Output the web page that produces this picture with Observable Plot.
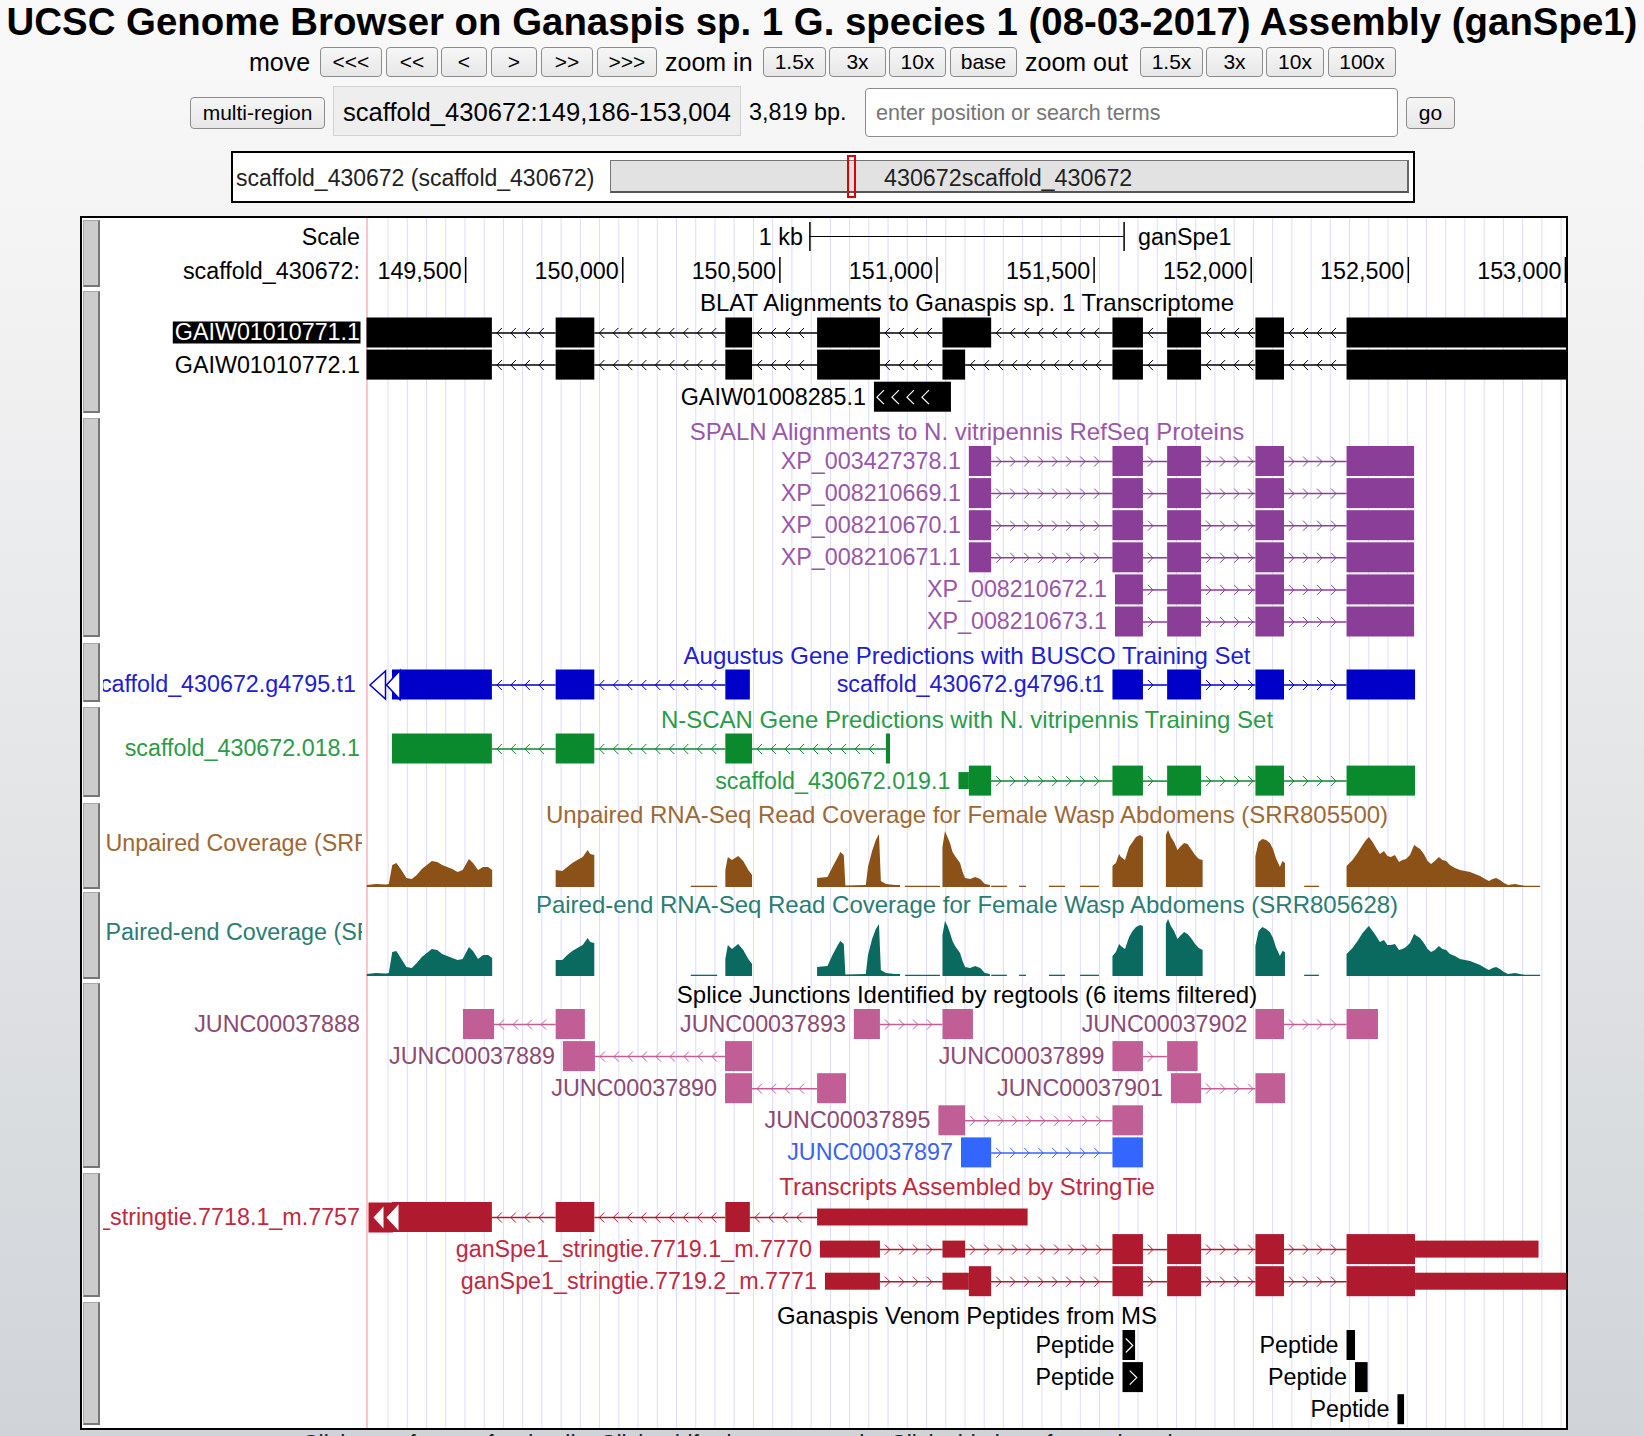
<!DOCTYPE html>
<html>
<head>
<meta charset="utf-8">
<script src="https://cdn.jsdelivr.net/npm/d3@7"></script>
<script src="https://cdn.jsdelivr.net/npm/@observablehq/plot@0.6"></script>
<style>
  html, body { margin: 0; padding: 0; }
  body { width: 1644px; height: 1436px; overflow: hidden; position: relative;
         font-family: "Liberation Sans", Arial, Helvetica, sans-serif; color: #000;
         background: linear-gradient(to bottom, #f9f9f9 0px, #f3f3f3 260px, #d0d4d8 1436px); }
  .t { position: absolute; white-space: nowrap; }
  .btn { position: absolute; box-sizing: border-box; border: 1px solid #8c8c8c; border-radius: 4px;
         background: linear-gradient(#f6f6f6, #e7e7e7); font-size: 21px; display: flex;
         align-items: center; justify-content: center; color: #000; }
  #frame { position: absolute; left: 80px; top: 216px; width: 1484px; height: 1210px;
           border: 2px solid #000; background: #fff; }
  #frame svg { position: absolute; left: 0; top: 0; }
  .side { position: absolute; left: 1px; width: 17px; box-sizing: border-box; background: #cccccc;
          border: 1px solid #a8a8a8; border-right: 2px solid #777; border-bottom: 2px solid #777; }
</style>
</head>
<body>
<div id="header"></div>
<div id="frame"></div>
<script>
// ---------------- DATA ----------------
const START = 149186, END = 153005;            // scaffold_430672:149,186-153,004
const rulerTicks = [149500, 150000, 150500, 151000, 151500, 152000, 152500, 153000];
const scaleBarBp = 1000, scaleBarLabel = "1 kb", assemblyName = "ganSpe1", chromLabel = "scaffold_430672:";

const blatFeatures = [
  {name: "GAIW01010771.1", row: 0, strand: "-", blocks: [[149186,149585],[149788,149911],[150328,150413],[150620,150820],[151019,151174],[151560,151657],[151734,151842],[152015,152106],[152305,153005]]},
  {name: "GAIW01010772.1", row: 1, strand: "-", blocks: [[149186,149585],[149788,149911],[150328,150413],[150620,150820],[151019,151091],[151560,151657],[151734,151842],[152015,152106],[152305,153005]]},
  {name: "GAIW01008285.1", row: 2, strand: "-", blocks: [[150801,151046]]}
];
const spalnFeatures = [
  {name: "XP_003427378.1", row: 0, strand: "+", blocks: [[151103,151174],[151560,151657],[151734,151842],[152015,152106],[152305,152520]]},
  {name: "XP_008210669.1", row: 1, strand: "+", blocks: [[151103,151174],[151560,151657],[151734,151842],[152015,152106],[152305,152520]]},
  {name: "XP_008210670.1", row: 2, strand: "+", blocks: [[151103,151174],[151560,151657],[151734,151842],[152015,152106],[152305,152520]]},
  {name: "XP_008210671.1", row: 3, strand: "+", blocks: [[151103,151174],[151560,151657],[151734,151842],[152015,152106],[152305,152520]]},
  {name: "XP_008210672.1", row: 4, strand: "+", blocks: [[151568,151657],[151734,151842],[152015,152106],[152305,152520]]},
  {name: "XP_008210673.1", row: 5, strand: "+", blocks: [[151568,151657],[151734,151842],[152015,152106],[152305,152520]]}
];
const augustusFeatures = [
  {name: "scaffold_430672.g4795.t1", row: 0, strand: "-", continuesLeft: true, blocks: [[149267,149585],[149788,149911],[150328,150406]]},
  {name: "scaffold_430672.g4796.t1", row: 0, strand: "+", blocks: [[151560,151657],[151734,151842],[152015,152106],[152305,152523]]}
];
const nscanFeatures = [
  {name: "scaffold_430672.018.1", row: 0, strand: "-", blocks: [[149267,149585],[149788,149911],[150328,150413],[150839,150852]]},
  {name: "scaffold_430672.019.1", row: 1, strand: "+", blocks: [[151070,151103,1],[151103,151174],[151560,151657],[151734,151842],[152015,152106],[152305,152523]]}
];
// coverage segments: [position, depth]
const unpairedCoverage = [
  [[149187,2],[149216,3],[149248,2.5],[149257,3],[149268,22],[149281,24],[149297,17],[149313,9],[149330,8],[149346,12],[149362,18],[149378,22],[149394,26],[149411,25],[149427,22],[149443,20],[149459,18],[149476,15],[149492,17],[149512,28],[149525,24],[149541,17],[149557,20],[149573,20],[149586,17]],
  [[149788,17],[149809,16],[149825,20],[149841,24],[149857,27],[149874,30],[149890,37],[149898,33],[149911,32]],
  [[150218,1.3],[150302,1.3]],
  [[150328,17],[150336,30],[150349,27],[150369,31],[150385,26],[150401,17],[150413,12]],
  [[150620,9],[150653,10],[150669,20],[150686,30],[150694,35],[150705,32],[150710,1.5],[150775,2],[150782,20],[150795,36],[150807,47],[150817,53],[150823,6],[150839,3],[150868,2],[150884,2]],
  [[150900,1.3],[151011,1.3]],
  [[151019,40],[151027,56],[151035,50],[151043,44],[151051,35],[151059,31],[151075,24],[151083,15],[151091,9],[151107,8],[151123,10],[151139,8],[151154,3],[151170,2]],
  [[151174,1.3],[151224,1.3]],
  [[151263,1.3],[151285,1.3]],
  [[151358,1.3],[151409,1.3]],
  [[151457,1.3],[151517,1.3]],
  [[151560,21],[151571,24],[151581,33],[151587,30],[151600,27],[151613,40],[151624,45],[151635,50],[151648,52],[151657,50]],
  [[151730,52],[151737,57],[151746,50],[151756,45],[151767,37],[151775,40],[151788,44],[151799,43],[151810,38],[151823,32],[151835,28],[151847,27]],
  [[152015,31],[152025,45],[152037,48],[152049,47],[152061,44],[152071,38],[152080,29],[152093,20],[152101,26],[152109,24]],
  [[152170,1.3],[152217,1.3]],
  [[152305,21],[152324,27],[152340,34],[152356,42],[152367,47],[152376,50],[152388,45],[152399,39],[152411,33],[152424,36],[152435,31],[152446,30],[152459,32],[152472,25],[152483,27],[152494,28],[152507,32],[152520,42],[152529,40],[152539,38],[152551,33],[152563,26],[152574,23],[152586,26],[152599,30],[152610,27],[152622,26],[152634,22],[152650,19],[152666,17],[152682,16],[152698,15],[152714,13],[152730,11],[152746,8],[152758,6],[152770,8],[152781,9],[152793,7],[152806,4],[152819,2],[152841,3],[152857,2],[152873,1.3],[152921,1.3]]
];
const pairedCoverage = [
  [[149187,2],[149216,3],[149248,2.5],[149257,3],[149268,24],[149281,25],[149297,17],[149313,9],[149330,8],[149346,13],[149362,19],[149378,23],[149394,27],[149411,26],[149427,22],[149443,20],[149459,18],[149476,16],[149492,17],[149512,29],[149525,25],[149541,17],[149557,21],[149573,21],[149586,18]],
  [[149788,16],[149809,16],[149825,21],[149841,25],[149857,28],[149874,31],[149890,38],[149898,34],[149911,33]],
  [[150218,1.3],[150302,1.3]],
  [[150328,17],[150336,31],[150349,27],[150369,32],[150385,26],[150401,17],[150413,12]],
  [[150620,9],[150653,10],[150669,21],[150686,31],[150694,35],[150705,32],[150710,1.5],[150775,2],[150782,21],[150795,37],[150807,47],[150817,52],[150823,6],[150839,3],[150868,2],[150884,2]],
  [[150900,1.3],[151011,1.3]],
  [[151019,41],[151027,55],[151035,50],[151043,43],[151051,35],[151059,30],[151075,23],[151083,15],[151091,9],[151107,8],[151123,10],[151139,8],[151154,3],[151170,2]],
  [[151174,1.3],[151224,1.3]],
  [[151263,1.3],[151285,1.3]],
  [[151358,1.3],[151409,1.3]],
  [[151457,1.3],[151517,1.3]],
  [[151560,20],[151571,24],[151581,32],[151587,30],[151600,27],[151613,39],[151624,45],[151635,49],[151648,51],[151657,50]],
  [[151730,52],[151737,57],[151746,50],[151756,45],[151767,37],[151775,40],[151788,44],[151799,42],[151810,38],[151823,32],[151835,28],[151847,26]],
  [[152015,30],[152025,45],[152037,49],[152049,47],[152061,44],[152071,38],[152080,29],[152093,20],[152101,25],[152109,24]],
  [[152170,1.3],[152217,1.3]],
  [[152305,22],[152324,28],[152340,35],[152356,43],[152367,47],[152376,50],[152388,45],[152399,40],[152411,34],[152424,36],[152435,31],[152446,31],[152459,32],[152472,26],[152483,27],[152494,29],[152507,33],[152520,42],[152529,40],[152539,38],[152551,33],[152563,27],[152574,24],[152586,26],[152599,30],[152610,27],[152622,26],[152634,22],[152650,20],[152666,17],[152682,16],[152698,15],[152714,13],[152730,11],[152746,8],[152758,6],[152770,8],[152781,9],[152793,7],[152806,4],[152819,2],[152841,3],[152857,2],[152873,1.3],[152921,1.3]]
];
const spliceJunctions = [
  {name: "JUNC00037888", row: 0, strand: "-", blocks: [[149493,149592],[149788,149881]]},
  {name: "JUNC00037893", row: 0, strand: "+", blocks: [[150737,150820],[151019,151116]]},
  {name: "JUNC00037902", row: 0, strand: "+", blocks: [[152015,152106],[152305,152405]]},
  {name: "JUNC00037889", row: 1, strand: "-", blocks: [[149811,149913],[150327,150413]]},
  {name: "JUNC00037899", row: 1, strand: "+", blocks: [[151560,151657],[151734,151831]]},
  {name: "JUNC00037890", row: 2, strand: "-", blocks: [[150327,150413],[150620,150712]]},
  {name: "JUNC00037901", row: 2, strand: "+", blocks: [[151746,151842],[152015,152109]]},
  {name: "JUNC00037895", row: 3, strand: "+", blocks: [[151006,151091],[151560,151657]]},
  {name: "JUNC00037897", row: 4, strand: "+", blocks: [[151078,151174],[151560,151657]]}
];
const stringtieFeatures = [
  {name: "ganSpe1_stringtie.7718.1_m.7757", row: 0, strand: "-", continuesLeft: true, blocks: [[149267,149585],[149788,149911],[150328,150406],[150620,151290,1]]},
  {name: "ganSpe1_stringtie.7719.1_m.7770", row: 1, strand: "+", blocks: [[150629,150820,1],[151019,151091,1],[151560,151657],[151734,151842],[152015,152106],[152305,152523],[152523,152916,1]]},
  {name: "ganSpe1_stringtie.7719.2_m.7771", row: 2, strand: "+", blocks: [[150645,150820,1],[151019,151103,1],[151103,151174],[151560,151657],[151734,151842],[152015,152106],[152305,152523],[152523,153005,1]]}
];
const venomPeptides = [
  {name: "Peptide", row: 0, strand: "+", blocks: [[151592,151632]]},
  {name: "Peptide", row: 0, strand: ".", blocks: [[152305,152332]]},
  {name: "Peptide", row: 1, strand: "+", blocks: [[151592,151657]]},
  {name: "Peptide", row: 1, strand: ".", blocks: [[152332,152372]]},
  {name: "Peptide", row: 2, strand: ".", blocks: [[152467,152488]]}
];
const tracks = [
  {key: "blat", title: "BLAT Alignments to Ganaspis sp. 1 Transcriptome", features: blatFeatures},
  {key: "spaln", title: "SPALN Alignments to N. vitripennis RefSeq Proteins", features: spalnFeatures},
  {key: "augustus", title: "Augustus Gene Predictions with BUSCO Training Set", features: augustusFeatures},
  {key: "nscan", title: "N-SCAN Gene Predictions with N. vitripennis Training Set", features: nscanFeatures},
  {key: "unpaired", title: "Unpaired RNA-Seq Read Coverage for Female Wasp Abdomens (SRR805500)", shortLabel: "Unpaired Coverage (SRR805500)", coverage: unpairedCoverage},
  {key: "paired", title: "Paired-end RNA-Seq Read Coverage for Female Wasp Abdomens (SRR805628)", shortLabel: "Paired-end Coverage (SRR805628)", coverage: pairedCoverage},
  {key: "splice", title: "Splice Junctions Identified by regtools (6 items filtered)", features: spliceJunctions},
  {key: "stringtie", title: "Transcripts Assembled by StringTie", features: stringtieFeatures},
  {key: "venom", title: "Ganaspis Venom Peptides from MS", features: venomPeptides}
];
const highlightedItem = "GAIW01010771.1";

// ---------------- STYLE / LAYOUT ----------------
const FONT = '"Liberation Sans", Arial, Helvetica, sans-serif';
const FRAME_X = 82, FRAME_Y = 218, W = 1484, H = 1210;
const DATA_L = 366.5, DATA_R = 1566.5;
const PITCH = 32.1, BOX = 30, THIN = 17, FS = 23.3, FS_TITLE = 24;
const layout = {
  blat: {title: 303, row0: 332.5}, spaln: {title: 432, row0: 461}, augustus: {title: 656, row0: 684.5},
  nscan: {title: 720, row0: 748.5}, unpaired: {title: 815, base: 887, label: 843},
  paired: {title: 905, base: 976, label: 932}, splice: {title: 995, row0: 1024},
  stringtie: {title: 1187, row0: 1217}, venom: {title: 1316, row0: 1345}
};
const style = {
  blat: {box: "#000000", text: "#000000", title: "#000000"},
  spaln: {box: "#8a3e98", text: "#9957a8", title: "#9957a8"},
  augustus: {box: "#0000c8", text: "#2020d2", title: "#2020d2", leftLabelGap: 11},
  nscan: {box: "#0a8a2c", text: "#2b9b47", title: "#2b9b47"},
  unpaired: {box: "#8b5117", text: "#9c6935", title: "#9c6935"},
  paired: {box: "#0b6a5f", text: "#2b7c72", title: "#2b7c72"},
  splice: {box: "#c25e96", text: "#8c4a72", title: "#000000"},
  stringtie: {box: "#b01a2e", text: "#c02a3e", title: "#c02a3e"},
  venom: {box: "#000000", text: "#000000", title: "#000000"}
};
const colorOverride = {"JUNC00037897": "#3366ff"};
const textOverride = {"JUNC00037897": "#3a64ee"};
const guideColor = "#dcdcff";

// ---------------- HEADER (page UI) ----------------
const header = document.getElementById("header");
function addDiv(cls, css, text) { const d = document.createElement("div"); d.className = cls; d.style.cssText = css; if (text != null) d.textContent = text; header.appendChild(d); return d; }
addDiv("t", "left:0;top:0;width:1644px;text-align:center;font-weight:bold;font-size:38.4px;line-height:44px;", "UCSC Genome Browser on Ganaspis sp. 1 G. species 1 (08-03-2017) Assembly (ganSpe1)");
const navText = [["move", 249], ["zoom in", 665], ["zoom out", 1025]];
const navButtons = [["<<<",320,382],["<<",386,438],["<",441,487],[">",491,537],[">>",541,593],[">>>",597,657],["1.5x",763,826],["3x",829,886],["10x",889,946],["base",950,1017],["1.5x",1140,1203],["3x",1206,1263],["10x",1266,1324],["100x",1328,1396]];
navText.forEach(([t, x]) => addDiv("t", `left:${x}px;top:47px;font-size:25px;line-height:30px;`, t));
navButtons.forEach(([t, a, b]) => addDiv("btn", `left:${a}px;top:47px;width:${b - a}px;height:30px;`, t));
addDiv("btn", "left:190px;top:97px;width:135px;height:32px;", "multi-region");
addDiv("t", "left:333px;top:86px;width:408px;height:50px;box-sizing:border-box;background:#eeeeee;border:1px solid #d2d2d2;", "");
addDiv("t", "left:343px;top:97px;font-size:25.6px;line-height:30px;", "scaffold_430672:149,186-153,004");
addDiv("t", "left:749px;top:97px;font-size:23.4px;line-height:30px;", "3,819 bp.");
addDiv("t", "left:865px;top:88px;width:533px;height:49px;box-sizing:border-box;background:#fff;border:1px solid #8c8c8c;border-radius:4px;", "");
addDiv("t", "left:876px;top:98px;font-size:21.5px;line-height:30px;color:#767676;", "enter position or search terms");
addDiv("btn", "left:1406px;top:97px;width:49px;height:32px;", "go");
addDiv("t", "left:231px;top:151px;width:1184px;height:52px;box-sizing:border-box;background:#fff;border:2px solid #000;", "");
addDiv("t", "left:236px;top:163px;font-size:23px;line-height:30px;color:#222;", "scaffold_430672 (scaffold_430672)");
addDiv("t", "left:610px;top:160px;width:799px;height:33px;box-sizing:border-box;background:#e2e2e2;border:1px solid #777;border-bottom:2px solid #555;border-right:2px solid #666;", "");
addDiv("t", "left:884px;top:163px;font-size:23.3px;line-height:30px;color:#222;", "430672scaffold_430672");
addDiv("t", "left:847px;top:155px;width:9px;height:43px;box-sizing:border-box;border:2px solid #e00000;", "");
addDiv("t", "left:302px;top:1431px;font-size:23px;line-height:26px;color:#222;", "Click on a feature for details. Click+shift+drag to zoom in. Click side bars for track options.");

// ---------------- CHART ----------------
const xs = d3.scaleLinear().domain([START, END]).range([DATA_L, DATA_R]); // page-pixel helper for spacing decorations
const ctx2d = document.createElement("canvas").getContext("2d");
const textWidth = (s, size) => { ctx2d.font = `${size}px ${FONT}`; return ctx2d.measureText(s).width; };
function chevronsBetween(a, b, step, padStart, padEnd) {
  const out = [], p0 = xs(a), p1 = xs(b);
  for (let p = p0 + padStart; p < p1 - padEnd; p += step) out.push(xs.invert(p));
  return out;
}

const featRows = [];
tracks.forEach(t => (t.features || []).forEach(f => featRows.push({...f, track: t.key})));
const yOf = f => layout[f.track].row0 + f.row * PITCH;
const colorOf = f => colorOverride[f.name] || style[f.track].box;
const textColorOf = f => textOverride[f.name] || style[f.track].text;

const blocks = featRows.flatMap(f => f.blocks.map(b => ({x1: b[0], x2: b[1], y: yOf(f), h: b[2] ? THIN : BOX, fill: colorOf(f)})));
const introns = featRows.flatMap(f => f.blocks.slice(1).map((b, i) => ({x1: f.blocks[i][1], x2: b[0], y: yOf(f), stroke: colorOf(f), strand: f.strand}))).filter(d => d.x2 > d.x1);
const intronChev = introns.flatMap(d => chevronsBetween(d.x1, d.x2, 14, 7, 5).map(x => ({x, y: d.y, stroke: d.stroke, strand: d.strand})));
const innerChev = featRows.filter(f => f.blocks.length === 1 && f.strand !== ".").flatMap(f => {
  const [a, b] = f.blocks[0]; const w = xs(b) - xs(a);
  const pts = w < 22 ? [xs.invert((xs(a) + xs(b)) / 2)] : chevronsBetween(a, b, 15, 6, 12);
  return pts.map(x => ({x, y: yOf(f), strand: f.strand}));
});

const labels = featRows.map(f => {
  const w = textWidth(f.name, FS), sx = xs(f.blocks[0][0]);
  const left = f.blocks[0][0] <= START || (sx - 8.5 - w) < DATA_L + 2;
  return {x: left ? START : f.blocks[0][0], y: yOf(f), text: f.name, left, w, gap: style[f.track].leftLabelGap || 7,
          fill: f.name === highlightedItem ? "#ffffff" : textColorOf(f)};
});
const leftLabels = labels.filter(d => d.left), featLabels = labels.filter(d => !d.left);
const highlight = leftLabels.filter(d => d.text === highlightedItem);
const clippedTexts = new Set([...leftLabels.map(d => d.text), ...tracks.filter(d => d.shortLabel).map(d => d.shortLabel)]);

function covPoints(cov) {
  return cov.flatMap((seg, si) => [{x: seg[0][0], v: 0, seg: si}, ...seg.map(([x, v]) => ({x, v, seg: si})), {x: seg[seg.length - 1][0], v: 0, seg: si}]);
}
const guides = d3.range(149253, END, 61.2);
const mid = (START + END) / 2;
const scaleBar = [{x1: mid - scaleBarBp / 2, x2: mid + scaleBarBp / 2}];

const shape = (pts, close) => ({draw(c) { c.moveTo(pts[0][0], pts[0][1]); pts.slice(1).forEach(p => c.lineTo(p[0], p[1])); if (close) c.closePath(); }});
const chevL = shape([[2.5,-5],[-2.5,0],[2.5,5]], false);
const chevR = shape([[-2.5,-5],[2.5,0],[-2.5,5]], false);
const bigChevL = shape([[3.5,-7],[-3.5,0],[3.5,7]], false);
const bigChevR = shape([[-3.5,-7],[3.5,0],[-3.5,7]], false);
const contTri1 = shape([[3,0],[18.5,-14],[18.5,14]], true);
const contTri2 = shape([[19.5,0],[33,-14.5],[33,14.5]], true);
const contBack = shape([[1.5,-15],[26,-15],[26,15],[1.5,15]], true);
const contW1 = shape([[6.5,0],[16.5,-11],[16.5,11]], true);
const contW2 = shape([[19.5,0],[31.5,-13],[31.5,13]], true);

const covMarks = ["unpaired", "paired"].map(k => {
  const t = tracks.find(d => d.key === k), base = layout[k].base;
  return Plot.areaY(covPoints(t.coverage), {x: "x", y1: base, y2: d => base - d.v, z: "seg", fill: style[k].box, curve: "linear"});
});
const contFeats = featRows.filter(f => f.continuesLeft);
const contOpen = contFeats.filter(f => f.track === "augustus").map(f => ({y: yOf(f), c: colorOf(f)}));
const contFilled = contFeats.filter(f => f.track === "stringtie").map(f => ({y: yOf(f), c: colorOf(f)}));
const leftLabelMarks = d3.groups(leftLabels, d => d.gap).map(([gap, rows]) =>
  Plot.text(rows, {x: "x", y: "y", text: "text", dx: -gap, textAnchor: "end", fill: "fill", fontSize: FS}));

const chart = Plot.plot({
  width: W, height: H, margin: 0,
  x: {domain: [START, END], range: [DATA_L - FRAME_X, DATA_R - FRAME_X], axis: null},
  y: {domain: [FRAME_Y, FRAME_Y + H], range: [0, H], axis: null},
  color: {type: "identity"},
  style: {background: "transparent", fontFamily: FONT, fontSize: "23px", overflow: "visible", maxWidth: "none"},
  marks: [
    Plot.ruleX(guides, {x: d => d, y1: FRAME_Y, y2: FRAME_Y + H, stroke: guideColor, strokeWidth: 1}),
    Plot.ruleX([START], {x: d => d, y1: FRAME_Y, y2: FRAME_Y + H, stroke: "#f2a2a2", strokeWidth: 1.2}),
    // ruler
    Plot.text(["Scale"], {x: START, y: 237, text: d => d, dx: -7, textAnchor: "end", fontSize: FS, fill: "#000"}),
    Plot.ruleY(scaleBar, {x1: "x1", x2: "x2", y: 236, stroke: "#000", strokeWidth: 1.2}),
    Plot.ruleX(scaleBar.flatMap(d => [d.x1, d.x2]), {x: d => d, y1: 222, y2: 251, stroke: "#000", strokeWidth: 1.5}),
    Plot.text(scaleBar, {x: "x1", y: 237, text: () => scaleBarLabel, dx: -7, textAnchor: "end", fontSize: FS, fill: "#000"}),
    Plot.text(scaleBar, {x: "x2", y: 237, text: () => assemblyName, dx: 14, textAnchor: "start", fontSize: FS, fill: "#000"}),
    Plot.text([chromLabel], {x: START, y: 271, text: d => d, dx: -7, textAnchor: "end", fontSize: FS, fill: "#000"}),
    Plot.ruleX(rulerTicks, {x: d => d, y1: 257, y2: 283, stroke: "#000", strokeWidth: 1.5}),
    Plot.text(rulerTicks, {x: d => d, y: 271, text: d => d3.format(",")(d), dx: -4, textAnchor: "end", fontSize: FS, fill: "#000"}),
    // track titles
    Plot.text(tracks, {x: mid, y: d => layout[d.key].title, text: "title", fill: d => style[d.key].title, fontSize: FS_TITLE}),
    // coverage
    ...covMarks,
    Plot.text(tracks.filter(d => d.shortLabel), {x: START, y: d => layout[d.key].label, text: "shortLabel", dx: 105 - DATA_L, textAnchor: "start", fill: d => style[d.key].text, fontSize: FS}),
    // gene-like features
    Plot.ruleY(introns, {x1: "x1", x2: "x2", y: "y", stroke: "stroke", strokeWidth: 1.5}),
    Plot.dot(intronChev.filter(d => d.strand === "-"), {x: "x", y: "y", symbol: chevL, stroke: "stroke", fill: "none", strokeWidth: 1}),
    Plot.dot(intronChev.filter(d => d.strand === "+"), {x: "x", y: "y", symbol: chevR, stroke: "stroke", fill: "none", strokeWidth: 1}),
    Plot.rect(blocks, {x1: "x1", x2: "x2", y1: d => d.y - d.h / 2, y2: d => d.y + d.h / 2, fill: "fill"}),
    Plot.dot(innerChev.filter(d => d.strand === "-"), {x: "x", y: "y", symbol: bigChevL, stroke: "#fff", fill: "none", strokeWidth: 1.2}),
    Plot.dot(innerChev.filter(d => d.strand === "+"), {x: "x", y: "y", symbol: bigChevR, stroke: "#fff", fill: "none", strokeWidth: 1.2}),
    // left continuation indicators
    Plot.dot(contOpen, {x: START, y: "y", symbol: contTri1, stroke: "c", fill: "#fff", strokeWidth: 1.5}),
    Plot.dot(contOpen, {x: START, y: "y", symbol: contTri2, stroke: "c", fill: "#fff", strokeWidth: 1.5}),
    Plot.dot(contFilled, {x: START, y: "y", symbol: contBack, fill: "c", stroke: "none"}),
    Plot.dot(contFilled, {x: START, y: "y", symbol: contW1, fill: "#fff", stroke: "none"}),
    Plot.dot(contFilled, {x: START, y: "y", symbol: contW2, fill: "#fff", stroke: "none"}),
    // labels
    Plot.rect(highlight, {x1: "x", x2: "x", y1: d => d.y - 11, y2: d => d.y + 11, insetLeft: -(7 + highlight[0].w + 1.5), insetRight: 6, fill: "#000"}),
    ...leftLabelMarks,
    Plot.text(featLabels, {x: "x", y: "y", text: "text", dx: -8.5, textAnchor: "end", fill: "fill", fontSize: FS})
  ]
});

// clip the left label column like the browser does (wrapper group keeps the clip in svg space)
const ns = "http://www.w3.org/2000/svg";
const defs = document.createElementNS(ns, "defs");
const cp = document.createElementNS(ns, "clipPath"); cp.setAttribute("id", "labelclip");
cp.setAttribute("clipPathUnits", "userSpaceOnUse");
const cr = document.createElementNS(ns, "rect");
cr.setAttribute("x", 103 - FRAME_X); cr.setAttribute("y", 0); cr.setAttribute("width", 362 - 103); cr.setAttribute("height", H);
cp.appendChild(cr); defs.appendChild(cp); chart.insertBefore(defs, chart.firstChild);
const clipGroups = new Set();
chart.querySelectorAll("text").forEach(t => { if (clippedTexts.has(t.textContent)) clipGroups.add(t.parentNode); });
clipGroups.forEach(g => {
  const wrap = document.createElementNS(ns, "g");
  wrap.setAttribute("clip-path", "url(#labelclip)");
  g.parentNode.insertBefore(wrap, g);
  wrap.appendChild(g);
});

const frame = document.getElementById("frame");
frame.appendChild(chart);
// track side buttons (page y ranges)
const sideButtons = [[220,287],[291,413],[418,637],[643,702],[707,797],[803,889],[892,979],[983,1168],[1173,1297],[1302,1425]];
sideButtons.forEach(([a, b]) => { const d = document.createElement("div"); d.className = "side"; d.style.top = (a - FRAME_Y) + "px"; d.style.height = (b - a) + "px"; frame.appendChild(d); });
</script>
</body>
</html>
